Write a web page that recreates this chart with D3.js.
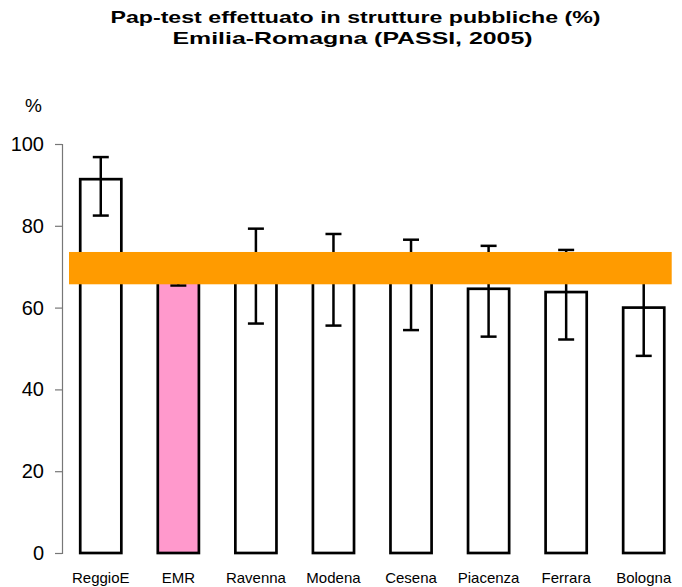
<!DOCTYPE html>
<html>
<head>
<meta charset="utf-8">
<script src="https://cdn.jsdelivr.net/npm/d3@7"></script>
<style>
  body { margin: 0; background: #fff; }
  text { font-family: "Liberation Sans", Arial, sans-serif; }
</style>
</head>
<body>
<script>
// data
var regions = ["ReggioE", "EMR", "Ravenna", "Modena", "Cesena", "Piacenza", "Ferrara", "Bologna"];
var values  = [91.4, 69.5, 67.7, 66.9, 66.4, 64.6, 63.8, 60.0];
var ciLow   = [82.5, 65.4, 56.1, 55.6, 54.5, 52.9, 52.2, 48.2];
var ciHigh  = [96.8, 73.2, 79.3, 78.0, 76.6, 75.1, 74.1, 71.8];
var yTicks  = [0, 20, 40, 60, 80, 100];
var emrBand = [65.7, 73.6]; // regional CI shown as the orange band
var titleLines = ["Pap-test effettuato in strutture pubbliche (%)", "Emilia-Romagna  (PASSI, 2005)"];

var width = 682, height = 587;
var margin = {top: 144, right: 0, bottom: 34, left: 62};

var svg = d3.select("body")
    .append("svg")
    .attr("width", width)
    .attr("height", height);

var x = d3.scaleBand()
    .domain(regions)
    .range([margin.left, width + 0.5])
    .paddingInner(0.47)
    .paddingOuter(0.235);

var y = d3.scaleLinear()
    .domain([0, 100])
    .range([height - margin.bottom, margin.top]);

// title (the original is stretched sideways)
svg.append("text")
    .attr("x", 355.5).attr("y", 23)
    .attr("text-anchor", "middle")
    .attr("font-weight", "bold")
    .attr("font-size", "17px")
    .attr("textLength", 490)
    .attr("lengthAdjust", "spacingAndGlyphs")
    .text(titleLines[0]);
svg.append("text")
    .attr("x", 352.5).attr("y", 44)
    .attr("text-anchor", "middle")
    .attr("font-weight", "bold")
    .attr("font-size", "17px")
    .attr("textLength", 360)
    .attr("lengthAdjust", "spacingAndGlyphs")
    .text(titleLines[1]);

// y axis
var yAxis = svg.append("g")
    .attr("transform", "translate(" + margin.left + ",0)")
    .call(d3.axisLeft(y).tickValues(yTicks).tickSize(7).tickPadding(11));
yAxis.select(".domain").attr("stroke", "#777").attr("stroke-width", 1.2);
yAxis.selectAll(".tick line").attr("stroke", "#777").attr("stroke-width", 1.2);
yAxis.selectAll(".tick text")
    .attr("font-size", "20px")
    .attr("font-family", "Liberation Sans, Arial, sans-serif")
    .attr("fill", "#000");

svg.append("text")
    .attr("x", 33.5)
    .attr("y", 112)
    .attr("text-anchor", "middle")
    .attr("font-size", "19px")
    .text("%");

// bars
svg.selectAll("rect.bar")
    .data(regions)
    .enter()
    .append("rect")
    .attr("class", "bar")
    .attr("x", function(d) { return x(d); })
    .attr("y", function(d, i) { return y(values[i]); })
    .attr("width", x.bandwidth())
    .attr("height", function(d, i) { return y(0) - y(values[i]); })
    .attr("fill", function(d) { return d === "EMR" ? "#FF99CC" : "#fff"; })
    .attr("stroke", "#000")
    .attr("stroke-width", 2.7);

// error bars
var eb = svg.selectAll("g.err")
    .data(regions)
    .enter()
    .append("g")
    .attr("class", "err")
    .attr("stroke", "#000")
    .attr("stroke-width", 2.5);
var cx = function(d) { return x(d) + x.bandwidth() / 2; };
eb.append("line")
    .attr("x1", cx).attr("x2", cx)
    .attr("y1", function(d, i) { return y(ciLow[i]); })
    .attr("y2", function(d, i) { return y(ciHigh[i]); });
eb.append("line")
    .attr("x1", function(d) { return cx(d) - 8; })
    .attr("x2", function(d) { return cx(d) + 8; })
    .attr("y1", function(d, i) { return y(ciLow[i]); })
    .attr("y2", function(d, i) { return y(ciLow[i]); });
eb.append("line")
    .attr("x1", function(d) { return cx(d) - 8; })
    .attr("x2", function(d) { return cx(d) + 8; })
    .attr("y1", function(d, i) { return y(ciHigh[i]); })
    .attr("y2", function(d, i) { return y(ciHigh[i]); });

// orange band on top
svg.append("rect")
    .attr("x", margin.left + 7)
    .attr("width", 671.7 - margin.left - 7)
    .attr("y", y(emrBand[1]))
    .attr("height", y(emrBand[0]) - y(emrBand[1]))
    .attr("fill", "#FF9B00");

// category labels
svg.selectAll("text.cat")
    .data(regions)
    .enter()
    .append("text")
    .attr("class", "cat")
    .attr("x", cx)
    .attr("y", 583)
    .attr("text-anchor", "middle")
    .attr("font-size", "15px")
    .text(function(d) { return d; });
</script>
</body>
</html>
